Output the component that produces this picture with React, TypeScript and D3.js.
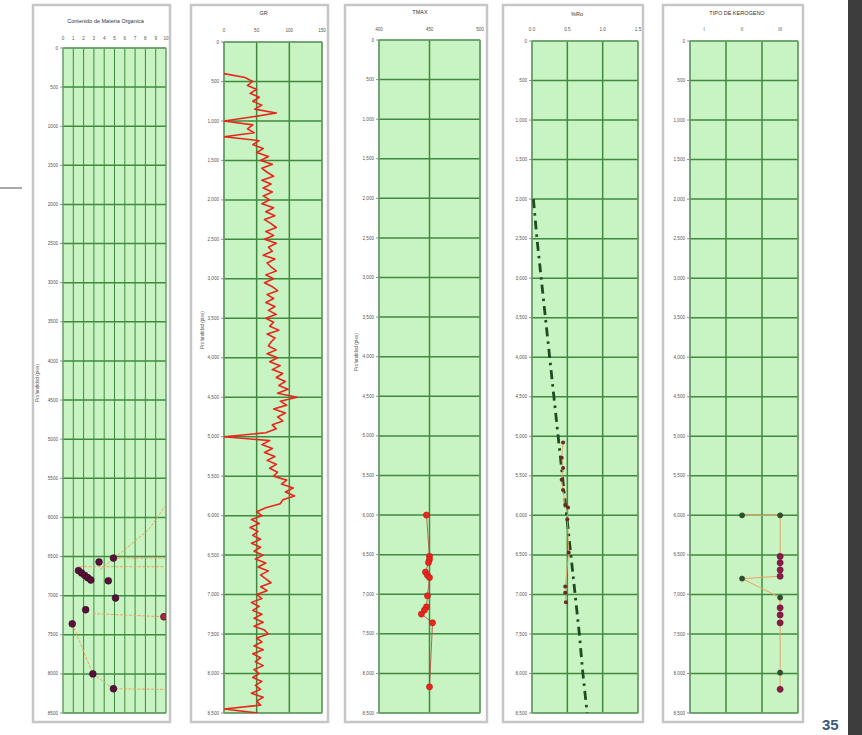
import React from "react";
import * as d3 from "d3";

// ---------- data ----------
const DEPTH_TICKS = [0, 500, 1000, 1500, 2000, 2500, 3000, 3500, 4000, 4500, 5000, 5500, 6000, 6500, 7000, 7500, 8000, 8500];

const TITLES = ["Contenido de Materia Organica", "GR", "TMAX", "%Ro", "TIPO DE KEROGENO"];
const DEPTH_TITLE = "Profundidad (pies)";

const P1_TICKS = [0, 1, 2, 3, 4, 5, 6, 7, 8, 9, 10];
const GR_TICKS = [0, 50, 100, 150];
const TMAX_TICKS = [400, 450, 500];
const RO_TICKS = [0, 0.5, 1.0, 1.5];
const KER_TICKS = [1, 2, 3];
const KER_LABELS = ["I", "II", "III"];

// panel 1: organic matter samples [depth, value]
const TOC_POINTS: [number, number][] = [
  [6520, 4.9], [6570, 3.5], [6680, 1.5], [6710, 1.8], [6740, 2.1], [6770, 2.4], [6800, 2.7],
  [6810, 4.4], [7030, 5.1], [7180, 2.2], [7270, 9.8], [7360, 0.9], [8000, 2.9], [8190, 4.9],
];
const P1_LINE_A: [number, number][] = [[5650, 11], [6160, 8.3], [6670, 3.6]];
const P1_LINE_B: [number, number][] = [[6520, 4.9], [6520, 11]];
const P1_LINE_C: [number, number][] = [[6630, 1.6], [6630, 11]];
const P1_LINE_D: [number, number][] = [[7230, 2.9], [7270, 9.8]];
const P1_LINE_E: [number, number][] = [[7360, 0.9], [8000, 2.9], [8190, 4.9], [8200, 11]];

// panel 2: GR log, sampled every 50 ft from 400 ft
const GR_START = 400;
const GR_STEP = 50;
const GR_VALUES = [
  0, 32, 44, 36, 50, 40, 54, 44, 58, 47,
  80, 42, 0, 44, 36, 46, 0, 54, 44, 60,
  50, 68, 56, 74, 58, 66, 76, 58, 72, 60,
  74, 60, 70, 58, 76, 64, 78, 62, 72, 80,
  64, 76, 62, 80, 68, 74, 60, 78, 66, 72,
  80, 64, 76, 62, 74, 82, 66, 76, 64, 78,
  68, 80, 64, 76, 70, 84, 66, 78, 72, 68,
  80, 66, 82, 70, 86, 74, 90, 80, 94, 84,
  98, 82, 112, 86, 96, 76, 94, 82, 90, 74,
  80, 64, 0, 70, 58, 74, 62, 78, 66, 80,
  70, 82, 76, 96, 88, 106, 94, 108, 90, 86,
  64, 50, 58, 42, 54, 40, 52, 44, 56, 42,
  56, 46, 60, 48, 64, 52, 68, 56, 64, 72,
  56, 66, 50, 58, 42, 54, 44, 58, 46, 60,
  46, 62, 68, 50, 58, 46, 60, 44, 56, 48,
  60, 46, 54, 44, 58, 48, 56, 42, 60, 50,
  56, 0, 52,
];

// panel 3: Tmax [depth, °C]
const TMAX_DATA: [number, number][] = [
  [6000, 447], [6520, 450], [6560, 450], [6600, 449], [6720, 446], [6760, 448], [6790, 450],
  [7020, 448], [7160, 447], [7200, 445], [7250, 442], [7360, 453], [8170, 450],
];

// panel 4: %Ro
const RO_TREND: [number, number][] = [
  [2000, 0.02], [2500, 0.07], [3000, 0.13], [3500, 0.19], [4000, 0.25], [4500, 0.31],
  [5000, 0.37], [5500, 0.43], [6000, 0.49], [6500, 0.55], [7000, 0.61], [7500, 0.67],
  [8000, 0.72], [8500, 0.78],
];
const RO_MEASURED: [number, number][] = [
  [5080, 0.44], [5270, 0.42], [5400, 0.44], [5550, 0.42], [5680, 0.44], [5870, 0.47],
  [5900, 0.51], [6050, 0.5], [6470, 0.52], [6900, 0.47], [6980, 0.47], [7100, 0.48],
];

// panel 5: kerogen type, group a = cuttings, b = core
const KEROGEN: { d: number; t: number; g: string }[] = [
  { d: 6000, t: 2, g: "a" }, { d: 6000, t: 3, g: "a" }, { d: 6520, t: 3, g: "b" },
  { d: 6600, t: 3, g: "b" }, { d: 6690, t: 3, g: "b" }, { d: 6770, t: 3, g: "b" },
  { d: 6800, t: 2, g: "a" }, { d: 7040, t: 3, g: "a" }, { d: 7170, t: 3, g: "b" },
  { d: 7260, t: 3, g: "b" }, { d: 7360, t: 3, g: "b" }, { d: 7990, t: 3, g: "a" },
  { d: 8200, t: 3, g: "b" },
];

const SLIDE_NUMBER = "35";

// ---------- drawing ----------
const FONT = "'Liberation Sans', Arial, sans-serif";
const BG = "#c8f3c2";
const GRID = "#3f8a3f";
const ORANGE = "#f0a060";

type Scale = d3.ScaleLinear<number, number>;

interface PanelProps {
  id: string;
  fx: number;
  fw: number;
  px0: number;
  px1: number;
  py0: number;
  py1: number;
  xDomain: [number, number];
  xTicks: number[];
  xLabels: string[];
  vLines: number[];
  title: string;
  titleY: number;
  labelY: number;
  yTitleX?: number;
  yTitleY?: number;
  depthFmt: (n: number) => string;
  gridW: number;
  vGridW: number;
  children: (x: Scale, y: Scale) => React.ReactNode;
}

function Panel(p: PanelProps) {
  const x = d3.scaleLinear().domain(p.xDomain).range([p.px0, p.px1]);
  const y = d3.scaleLinear().domain([0, 8500]).range([p.py0, p.py1]);
  return (
    <g>
      <rect x={p.fx} y={5} width={p.fw} height={717} fill="#fff" stroke="#c6c6c6" strokeWidth={2.5} />
      <clipPath id={p.id}>
        <rect x={p.px0} y={p.py0} width={p.px1 - p.px0} height={p.py1 - p.py0} />
      </clipPath>
      <rect x={p.px0} y={p.py0} width={p.px1 - p.px0} height={p.py1 - p.py0} fill={BG} />
      {DEPTH_TICKS.map((t) => (
        <line key={"h" + t} x1={p.px0} x2={p.px1} y1={y(t)} y2={y(t)} stroke={GRID} strokeWidth={p.gridW} />
      ))}
      {p.vLines.map((v, i) => (
        <line key={"v" + i} x1={x(v)} x2={x(v)} y1={p.py0} y2={p.py1} stroke={GRID} strokeWidth={p.vGridW} />
      ))}
      <rect x={p.px0} y={p.py0} width={p.px1 - p.px0} height={p.py1 - p.py0} fill="none" stroke="#7da57d" strokeWidth={1} />
      {DEPTH_TICKS.map((t) => (
        <g key={"yl" + t}>
          <line x1={p.px0 - 3} x2={p.px0} y1={y(t)} y2={y(t)} stroke="#777" strokeWidth={0.8} />
          <text x={p.px0 - 5} y={y(t) + 1.6} fontSize={4.6} fill="#555" textAnchor="end" fontFamily={FONT}>
            {p.depthFmt(t)}
          </text>
        </g>
      ))}
      {p.xTicks.map((t, i) => (
        <text key={"xl" + i} x={x(t)} y={p.labelY} fontSize={4.6} fill="#555" textAnchor="middle" fontFamily={FONT}>
          {p.xLabels[i]}
        </text>
      ))}
      <text x={(p.fx * 2 + p.fw) / 2 + 4} y={p.titleY} fontSize={5.5} fill="#333" textAnchor="middle" fontFamily={FONT}>
        {p.title}
      </text>
      {p.yTitleX !== undefined && (
        <text
          transform={`translate(${p.yTitleX},${p.yTitleY}) rotate(-90)`}
          fontSize={4.6}
          fill="#555"
          textAnchor="middle"
          fontFamily={FONT}
        >
          {DEPTH_TITLE}
        </text>
      )}
      <g clipPath={`url(#${p.id})`}>{p.children(x, y)}</g>
    </g>
  );
}

const fmtPlain = d3.format("d");
const fmtComma = d3.format(",");

export default function App() {
  const pairLine = (x: Scale, y: Scale) =>
    d3.line<[number, number]>().x((d) => x(d[1])).y((d) => y(d[0]));

  const grData: [number, number][] = GR_VALUES.map((v, i) => [GR_START + i * GR_STEP, v]);

  return (
    <div style={{ position: "absolute", left: 0, top: 0 }}>
      <svg width={862} height={735} style={{ display: "block", background: "#fff" }}>
        {/* stray slide line */}
        <line x1={0} x2={22} y1={188} y2={188} stroke="#555" strokeWidth={1} />

        {/* Panel 1 */}
        <Panel
          id="c1" fx={33} fw={137} px0={63} px1={166} py0={48} py1={713}
          xDomain={[0, 10]} xTicks={P1_TICKS} xLabels={P1_TICKS.map(String)} vLines={P1_TICKS}
          title={TITLES[0]} titleY={23} labelY={40} yTitleX={39} yTitleY={383}
          depthFmt={fmtPlain} gridW={1.5} vGridW={1}
        >
          {(x, y) => {
            const ln = pairLine(x, y);
            return (
              <g>
                {[P1_LINE_A, P1_LINE_B, P1_LINE_C, P1_LINE_D, P1_LINE_E].map((l, i) => (
                  <path key={i} d={ln(l) || ""} fill="none" stroke={ORANGE} strokeWidth={1} strokeDasharray="3 1.5" />
                ))}
                {TOC_POINTS.map((d, i) => (
                  <circle key={i} cx={x(d[1])} cy={y(d[0])} r={3.4} fill={d[1] > 9 ? "#b0204a" : "#5a0f3c"} stroke="#2b0a1e" strokeWidth={0.6} />
                ))}
              </g>
            );
          }}
        </Panel>

        {/* Panel 2 GR */}
        <Panel
          id="c2" fx={191} fw={137} px0={224} px1={322} py0={42} py1={713}
          xDomain={[0, 150]} xTicks={GR_TICKS} xLabels={GR_TICKS.map(String)} vLines={GR_TICKS}
          title={TITLES[1]} titleY={15} labelY={32} yTitleX={204} yTitleY={330}
          depthFmt={fmtComma} gridW={1.5} vGridW={1.5}
        >
          {(x, y) => (
            <path d={pairLine(x, y)(grData) || ""} fill="none" stroke="#e8261c" strokeWidth={1.6} strokeLinejoin="round" />
          )}
        </Panel>

        {/* Panel 3 TMAX */}
        <Panel
          id="c3" fx={345} fw={142} px0={379} px1={480} py0={40} py1={713}
          xDomain={[400, 500]} xTicks={TMAX_TICKS} xLabels={TMAX_TICKS.map(String)} vLines={TMAX_TICKS}
          title={TITLES[2]} titleY={14} labelY={31} yTitleX={358} yTitleY={352}
          depthFmt={fmtComma} gridW={1.5} vGridW={1.5}
        >
          {(x, y) => (
            <g>
              <path d={pairLine(x, y)(TMAX_DATA) || ""} fill="none" stroke="#b24040" strokeWidth={0.8} />
              {TMAX_DATA.map((d, i) => (
                <circle key={i} cx={x(d[1])} cy={y(d[0])} r={3.1} fill="#e8261c" stroke="#b01515" strokeWidth={0.5} />
              ))}
            </g>
          )}
        </Panel>

        {/* Panel 4 %Ro */}
        <Panel
          id="c4" fx={503} fw={140} px0={532} px1={638} py0={41} py1={713}
          xDomain={[0, 1.5]} xTicks={RO_TICKS} xLabels={RO_TICKS.map((v) => v.toFixed(1))} vLines={RO_TICKS}
          title={TITLES[3]} titleY={16} labelY={31}
          depthFmt={fmtComma} gridW={1.5} vGridW={1.5}
        >
          {(x, y) => (
            <g>
              <path d={pairLine(x, y)(RO_TREND) || ""} fill="none" stroke="#1f4a22" strokeWidth={2.8} strokeDasharray="9 5 2.5 5" />
              <path d={pairLine(x, y)(RO_MEASURED) || ""} fill="none" stroke={ORANGE} strokeWidth={0.8} />
              {RO_MEASURED.map((d, i) => (
                <circle key={i} cx={x(d[1])} cy={y(d[0])} r={2} fill="#6b2a25" />
              ))}
            </g>
          )}
        </Panel>

        {/* Panel 5 Kerogen */}
        <Panel
          id="c5" fx={663} fw={140} px0={690} px1={798} py0={41} py1={713}
          xDomain={[0.63, 3.47]} xTicks={KER_TICKS} xLabels={KER_LABELS}
          vLines={[0.63, 0.63 + 2.84 / 3, 0.63 + (2 * 2.84) / 3, 3.47]}
          title={TITLES[4]} titleY={15} labelY={31}
          depthFmt={fmtComma} gridW={1.5} vGridW={1.5}
        >
          {(x, y) => {
            const l = d3.line<{ d: number; t: number }>().x((d) => x(d.t)).y((d) => y(d.d));
            return (
              <g>
                <path d={l(KEROGEN) || ""} fill="none" stroke={ORANGE} strokeWidth={1} />
                {KEROGEN.map((d, i) => (
                  <circle key={i} cx={x(d.t)} cy={y(d.d)} r={d.g === "a" ? 2.6 : 3.1}
                    fill={d.g === "a" ? "#2f4f2f" : "#8a1a4a"} stroke={d.g === "a" ? "#1e3a1e" : "#5a0f30"} strokeWidth={0.5} />
                ))}
              </g>
            );
          }}
        </Panel>

        {/* slide chrome */}
        <rect x={848} y={0} width={14} height={735} fill="#3d3d3d" />
        <text x={822} y={730} fontSize={15} fontWeight="bold" fill="#3a5a7c" fontFamily={FONT}>
          {SLIDE_NUMBER}
        </text>
      </svg>
    </div>
  );
}
